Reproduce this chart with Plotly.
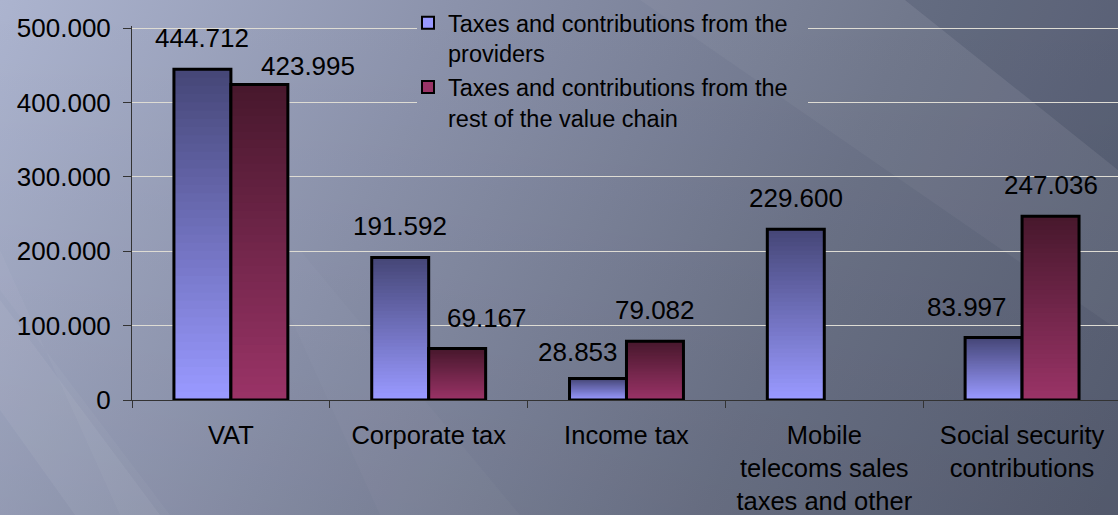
import base64
import plotly.graph_objects as go

# ---- data -----------------------------------------------------------------
categories = [
    "VAT",
    "Corporate tax",
    "Income tax",
    "Mobile telecoms sales taxes and other",
    "Social security contributions",
]
tick_labels = [
    "VAT",
    "Corporate tax",
    "Income tax",
    "Mobile<br>telecoms sales<br>taxes and other",
    "Social security<br>contributions",
]
series_names = [
    "Taxes and contributions from the<br>providers",
    "Taxes and contributions from the<br>rest of the value chain",
]
providers = [444712, 191592, 28853, 229600, 83997]
value_chain = [423995, 69167, 79082, None, 247036]
y_ticks = [0, 100000, 200000, 300000, 400000, 500000]

# ---- styling ----------------------------------------------------------------
W, H = 1118, 515
M_L, M_R, M_T, M_B = 132, 0, 26, 115
PW, PH = W - M_L - M_R, H - M_T - M_B
Y_TOP = y_ticks[-1] * PH / (PH - 2)   # keeps the top gridline 2px inside the plot
FONT = "Liberation Sans, Arial, sans-serif"
BAR_GAP = 0.424
N_STEPS = 40

# bottom (light) and top (dark) colours of the vertical bar gradients
gradients = [
    ((153, 153, 255), (70, 71, 120)),
    ((153, 51, 102), (72, 24, 45)),
]
# per-label offsets (px) for the value labels: (xshift, yshift)
label_shift = [
    [(0, 14), (0, 14), (-20, 10), (0, 14), (-27, 14)],
    [(49, 2), (30, 14), (0, 14), (0, 14), (0, 14)],
]


def mix(c0, c1, t):
    return "rgb({},{},{})".format(*[round(a + (b - a) * t) for a, b in zip(c0, c1)])


def background_svg(x0, y0, w, h):
    """Slide-style backdrop; the view box selects which part is shown."""
    svg = f"""<svg xmlns='http://www.w3.org/2000/svg' width='{w}' height='{h}'
 viewBox='{x0} {y0} {w} {h}' preserveAspectRatio='none'>
<defs>
 <linearGradient id='g' gradientUnits='userSpaceOnUse' x1='0' y1='0' x2='{W}' y2='{H * 0.9}'>
  <stop offset='0' stop-color='#acb4cf'/>
  <stop offset='0.35' stop-color='#8b92ab'/>
  <stop offset='0.7' stop-color='#6c7388'/>
  <stop offset='1' stop-color='#585f73'/>
 </linearGradient>
 <linearGradient id='v' gradientUnits='userSpaceOnUse' x1='0' y1='0' x2='0' y2='{H}'>
  <stop offset='0' stop-color='#000' stop-opacity='0'/>
  <stop offset='1' stop-color='#000' stop-opacity='0.06'/>
 </linearGradient>
</defs>
<rect x='0' y='0' width='{W}' height='{H}' fill='url(#g)'/>
<rect x='0' y='0' width='{W}' height='{H}' fill='url(#v)'/>
<polygon points='905,0 {W},0 {W},170' fill='#101830' fill-opacity='0.08'/>
<polygon points='640,0 905,0 {W},170 {W},330' fill='#ffffff' fill-opacity='0.04'/>
<polygon points='0,300 0,410 75,{H} 160,{H}' fill='#ffffff' fill-opacity='0.05'/>
<polygon points='0,250 0,290 170,{H} 120,{H}' fill='#ffffff' fill-opacity='0.03'/>
<polygon points='380,{H} 520,{H} 300,250 260,250' fill='#ffffff' fill-opacity='0.025'/>
</svg>"""
    return "data:image/svg+xml;base64," + base64.b64encode(svg.encode()).decode()


def px_to_paper(x, y):
    return (x - M_L) / PW, (H - M_B - y) / PH


fig = go.Figure()

# gradient bodies: nested bars, each higher one covering the previous
for s, (values, (light, dark)) in enumerate(zip([providers, value_chain], gradients)):
    group = f"s{s}"
    for k in range(N_STEPS):
        t = k / (N_STEPS - 1)
        base = [None if v is None else v * k / N_STEPS for v in values]
        height = [None if v is None else v * (N_STEPS - k) / N_STEPS for v in values]
        fig.add_trace(go.Bar(
            x=categories, y=height, base=base, offsetgroup=group,
            marker=dict(color=mix(light, dark, t), line=dict(width=0)),
            showlegend=False, hoverinfo="skip",
        ))
    # outline of the full bar
    fig.add_trace(go.Bar(
        x=categories, y=values, offsetgroup=group,
        marker=dict(color="rgba(0,0,0,0)", line=dict(color="#000000", width=3)),
        showlegend=False, hoverinfo="skip",
    ))
    # legend entry
    fig.add_trace(go.Bar(
        x=[categories[0]], y=[None], offsetgroup=group, name=series_names[s],
        marker=dict(color=mix(light, dark, 0), line=dict(color="#000000", width=2)),
        legendgroup=group,
    ))

# value labels
half_bar = (1 - BAR_GAP) / 4
for s, values in enumerate([providers, value_chain]):
    for i, v in enumerate(values):
        if v is None:
            continue
        dx, dy = label_shift[s][i]
        fig.add_annotation(
            x=i + (-half_bar if s == 0 else half_bar), y=v, xref="x", yref="y",
            text=f"{v:,}".replace(",", "."), showarrow=False,
            yanchor="bottom", xanchor="center", xshift=dx, yshift=dy,
            font=dict(family=FONT, size=26, color="#000000"),
        )

# backdrop plus a patch of it behind the legend, hiding the gridlines there
bx, by = px_to_paper(0, 0)
lx0, ly0 = 417, 0
lw, lh = 808 - 417, 128
px0, py0 = px_to_paper(lx0, ly0)
images = [
    dict(source=background_svg(0, 0, W, H), xref="paper", yref="paper",
         x=bx, y=by, sizex=W / PW, sizey=H / PH, xanchor="left", yanchor="top",
         sizing="stretch", layer="below"),
    dict(source=background_svg(lx0, ly0, lw, lh), xref="paper", yref="paper",
         x=px0, y=py0, sizex=lw / PW, sizey=lh / PH, xanchor="left", yanchor="top",
         sizing="stretch", layer="above"),
]

lgx, lgy = px_to_paper(408, 1)
fig.update_layout(
    width=W, height=H,
    margin=dict(l=M_L, r=M_R, t=M_T, b=M_B, pad=0, autoexpand=False),
    paper_bgcolor="#7d849a", plot_bgcolor="rgba(0,0,0,0)",
    barmode="group", bargap=BAR_GAP, bargroupgap=0,
    separators=",.",
    font=dict(family=FONT, size=26, color="#000000"),
    images=images,
    showlegend=True,
    legend=dict(
        x=lgx, y=lgy, xanchor="left", yanchor="top", valign="top",
        bgcolor="rgba(0,0,0,0)", borderwidth=0,
        font=dict(family=FONT, size=23.5, color="#000000"),
        traceorder="normal", tracegroupgap=6,
    ),
    xaxis=dict(
        type="category", categoryorder="array", categoryarray=categories,
        tickvals=categories, ticktext=tick_labels,
        range=[-0.5, 4.485], tickson="boundaries", automargin=False,
        ticks="outside", ticklen=7, tickcolor="#333333", tickwidth=1,
        showline=True, linecolor="#333333", linewidth=1,
        showgrid=False, ticklabelstandoff=12,
        tickfont=dict(family=FONT, size=25.5, color="#000000"),
    ),
    yaxis=dict(
        range=[0, Y_TOP], tickvals=y_ticks, tickformat=",d", automargin=False,
        ticks="outside", ticklen=8, tickcolor="#333333", tickwidth=1,
        showline=True, linecolor="#333333", linewidth=1,
        showgrid=True, gridcolor="#dedcd4", gridwidth=1, zeroline=False,
        ticklabelstandoff=7,
        tickfont=dict(family=FONT, size=26, color="#000000"),
    ),
)

fig.write_html("out.html")
